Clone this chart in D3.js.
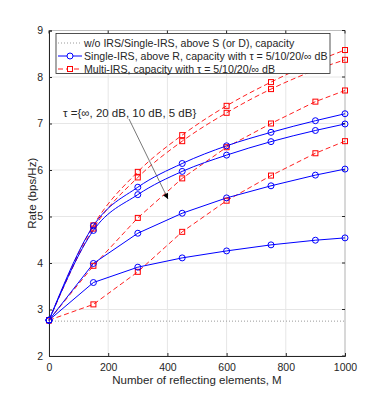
<!DOCTYPE html>
<html>
<head>
<meta charset="utf-8">
<title>Rate vs M</title>
<style>
  body { margin: 0; background: #fff; }
  text { font-family: "Liberation Sans", Arial, sans-serif; fill: #262626; }
</style>
</head>
<body>
<script src="https://d3js.org/d3.v7.min.js"></script>
<script>
var w = 382, h = 401;

// data
var M = [0, 150, 300, 450, 600, 750, 900, 1000];
var baseline = 2.75;
// Single-IRS, above R (tau = inf, 20, 10, 5 dB)
var single_inf = [2.77, 4.80, 5.63, 6.14, 6.52, 6.81, 7.06, 7.21];
var single_20  = [2.77, 4.70, 5.47, 5.97, 6.32, 6.61, 6.85, 6.99];
var single_10  = [2.77, 3.99, 4.64, 5.07, 5.40, 5.66, 5.89, 6.02];
var single_5   = [2.77, 3.58, 3.91, 4.11, 4.26, 4.39, 4.49, 4.54];
// Multi-IRS (tau = inf, 20, 10, 5 dB)
var multi_inf = [2.77, 4.81, 5.96, 6.75, 7.38, 7.89, 8.33, 8.58];
var multi_20  = [2.77, 4.74, 5.84, 6.62, 7.23, 7.74, 8.15, 8.37];
var multi_10  = [2.77, 3.94, 4.97, 5.82, 6.49, 7.00, 7.47, 7.71];
var multi_5   = [2.77, 3.11, 3.81, 4.67, 5.34, 5.88, 6.36, 6.62];

var xTicks = [0, 200, 400, 600, 800, 1000];
var yTicks = [2, 3, 4, 5, 6, 7, 8, 9];

var legendLabels = [
  "w/o IRS/Single-IRS, above S (or D), capacity",
  "Single-IRS, above R, capacity with \u03c4 = 5/10/20/\u221e dB",
  "Multi-IRS, capacity with \u03c4 = 5/10/20/\u221e dB"
];

var svg = d3.select('body').append('svg')
  .attr('width', w).attr('height', h);

var pL = 49, pR = 345, pT = 30.5, pB = 356;
var x = d3.scaleLinear().domain([0, 1000]).range([pL, pR]);
var y = d3.scaleLinear().domain([2, 9]).range([pB, pT]);

// grid
svg.append('g').selectAll('line').data(xTicks).enter().append('line')
  .attr('x1', d => x(d)).attr('x2', d => x(d))
  .attr('y1', pT).attr('y2', pB)
  .attr('stroke', '#e6e6e6').attr('stroke-width', 1);
svg.append('g').selectAll('line').data(yTicks).enter().append('line')
  .attr('x1', pL).attr('x2', pR)
  .attr('y1', d => y(d)).attr('y2', d => y(d))
  .attr('stroke', '#e6e6e6').attr('stroke-width', 1);

// box (top/right light)
svg.append('line').attr('x1', pL).attr('x2', pR).attr('y1', pT).attr('y2', pT)
  .attr('stroke', '#bdbdbd');
svg.append('line').attr('x1', pR).attr('x2', pR).attr('y1', pT).attr('y2', pB)
  .attr('stroke', '#bdbdbd');

// axes
var xAxis = svg.append('g').attr('transform', 'translate(0,' + pB + ')')
  .call(d3.axisBottom(x).tickValues(xTicks).tickFormat(d3.format('d')).tickSize(-3).tickPadding(8));
var yAxis = svg.append('g').attr('transform', 'translate(' + pL + ',0)')
  .call(d3.axisLeft(y).tickValues(yTicks).tickFormat(d3.format('d')).tickSize(-3).tickPadding(6));
[xAxis, yAxis].forEach(function(a) {
  a.select('.domain').attr('stroke', '#262626');
  a.selectAll('.tick line').attr('stroke', '#262626');
  a.selectAll('text').attr('font-size', 10.5).attr('fill', '#262626')
    .attr('font-family', '"Liberation Sans", Arial, sans-serif');
});
// ticks on right and top side
svg.append('g').selectAll('line').data(yTicks).enter().append('line')
  .attr('x1', pR).attr('x2', pR - 3)
  .attr('y1', d => y(d)).attr('y2', d => y(d))
  .attr('stroke', '#262626');
svg.append('g').selectAll('line').data(xTicks).enter().append('line')
  .attr('x1', d => x(d)).attr('x2', d => x(d))
  .attr('y1', pT).attr('y2', pT + 3)
  .attr('stroke', '#262626');

// labels
svg.append('text').attr('x', (pL + pR) / 2).attr('y', 384)
  .attr('text-anchor', 'middle').attr('font-size', 11.5)
  .text('Number of reflecting elements, M');
svg.append('text').attr('transform', 'translate(35.5,' + ((pT + pB) / 2) + ') rotate(-90)')
  .attr('text-anchor', 'middle').attr('font-size', 11.5)
  .text('Rate (bps/Hz)');

// baseline dotted
svg.append('line').attr('x1', x(0)).attr('x2', x(1000))
  .attr('y1', y(baseline)).attr('y2', y(baseline))
  .attr('stroke', '#9a9a9a').attr('stroke-width', 1).attr('stroke-dasharray', '1,2');

function curveFor(i) { return i < 2 ? d3.curveMonotoneX : d3.curveLinear; }

var singles = [single_inf, single_20, single_10, single_5];
var multis = [multi_inf, multi_20, multi_10, multi_5];

multis.forEach(function(s, i) {
  var line = d3.line().x((d, j) => x(M[j])).y(d => y(d)).curve(curveFor(i));
  svg.append('path').datum(s).attr('d', line)
    .attr('fill', 'none').attr('stroke', '#ff2020').attr('stroke-width', 1)
    .attr('stroke-dasharray', '5,3');
});
singles.forEach(function(s, i) {
  var line = d3.line().x((d, j) => x(M[j])).y(d => y(d)).curve(curveFor(i));
  svg.append('path').datum(s).attr('d', line)
    .attr('fill', 'none').attr('stroke', '#0000ff').attr('stroke-width', 1);
});
multis.forEach(function(s) {
  svg.append('g').selectAll('rect').data(s).enter().append('rect')
    .attr('x', (d, j) => x(M[j]) - 2.5).attr('y', d => y(d) - 2.5)
    .attr('width', 5).attr('height', 5)
    .attr('fill', 'none').attr('stroke', '#ff0000').attr('stroke-width', 1);
});
singles.forEach(function(s) {
  svg.append('g').selectAll('circle').data(s).enter().append('circle')
    .attr('cx', (d, j) => x(M[j])).attr('cy', d => y(d)).attr('r', 3)
    .attr('fill', 'none').attr('stroke', '#0000ff').attr('stroke-width', 1);
});

// annotation
svg.append('defs').append('marker').attr('id', 'arr')
  .attr('viewBox', '0 0 10 10').attr('refX', 10).attr('refY', 5)
  .attr('markerWidth', 7).attr('markerHeight', 7).attr('orient', 'auto')
  .append('path').attr('d', 'M0,0 L10,5 L0,10 z').attr('fill', '#000');
svg.append('line').attr('x1', 129).attr('y1', 119).attr('x2', 168).attr('y2', 199)
  .attr('stroke', '#555').attr('stroke-width', 0.8).attr('marker-end', 'url(#arr)');
svg.append('text').attr('x', 63).attr('y', 117).attr('font-size', 11.5)
  .text('\u03c4 ={\u221e, 20 dB, 10 dB, 5 dB}');

// legend
var lg = svg.append('g');
lg.append('rect').attr('x', 56).attr('y', 33.5).attr('width', 274).attr('height', 40)
  .attr('fill', '#fff').attr('stroke', '#262626').attr('stroke-width', 0.8);
var rows = [43, 56, 69];
lg.append('line').attr('x1', 58).attr('x2', 82).attr('y1', rows[0]).attr('y2', rows[0])
  .attr('stroke', '#9a9a9a').attr('stroke-dasharray', '1,2');
lg.append('line').attr('x1', 58).attr('x2', 82).attr('y1', rows[1]).attr('y2', rows[1])
  .attr('stroke', '#0000ff');
lg.append('circle').attr('cx', 70).attr('cy', rows[1]).attr('r', 3)
  .attr('fill', '#fff').attr('stroke', '#0000ff');
lg.append('line').attr('x1', 58).attr('x2', 82).attr('y1', rows[2]).attr('y2', rows[2])
  .attr('stroke', '#ff2020').attr('stroke-dasharray', '5,3');
lg.append('rect').attr('x', 67.5).attr('y', rows[2] - 2.5).attr('width', 5).attr('height', 5)
  .attr('fill', '#fff').attr('stroke', '#ff0000');
lg.selectAll('text.lbl').data(legendLabels).enter().append('text')
  .attr('x', 84).attr('y', (d, i) => rows[i] + 3.5).attr('font-size', 10.6)
  .text(d => d);
</script>
</body>
</html>
